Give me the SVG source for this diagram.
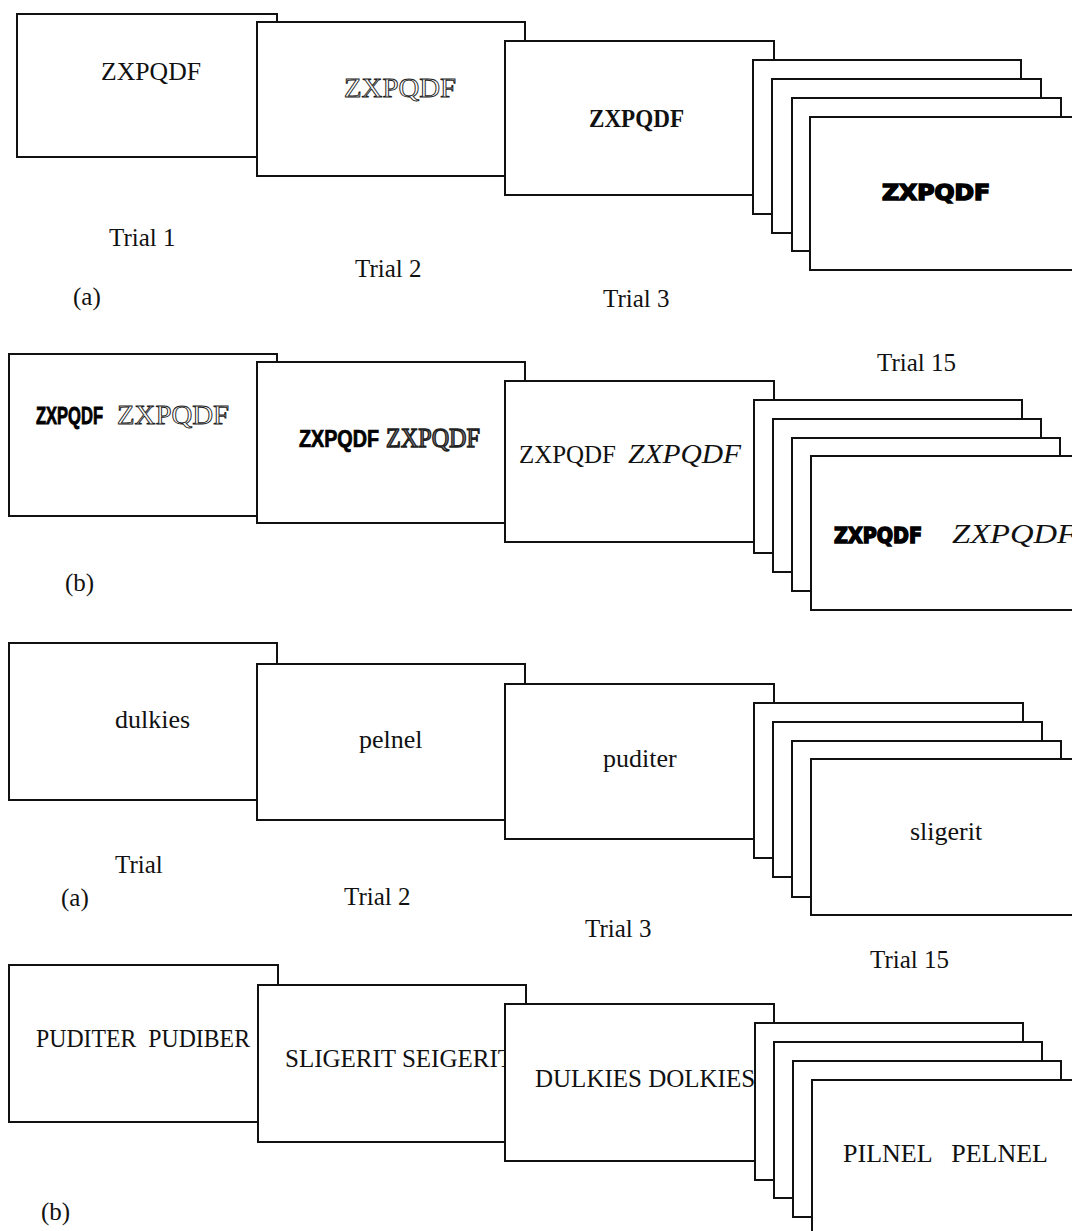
<svg xmlns="http://www.w3.org/2000/svg" width="1072" height="1231" viewBox="0 0 1072 1231">
<style>
.card{fill:#fff;stroke:#111;stroke-width:2}
.t{font-family:"Liberation Serif","Times New Roman",serif;font-size:26px;fill:#111}
.w{font-family:"Liberation Serif","Times New Roman",serif;font-size:25px;fill:#111}
.eng{font-family:"Liberation Serif","Times New Roman",serif;font-size:27px;fill:#fff;stroke:#222;stroke-width:0.9}
.bold{font-family:"Liberation Serif","Times New Roman",serif;font-size:26px;font-weight:bold;fill:#111}
.heavy{font-family:"DejaVu Sans",sans-serif;font-size:22px;font-weight:bold;fill:#000;stroke:#000;stroke-width:1.6}
.cond{font-family:"Liberation Sans",sans-serif;font-weight:bold;fill:#000;stroke:#000;stroke-width:0.6}
.script{font-family:"Liberation Serif","Times New Roman",serif;font-size:27px;font-style:italic;fill:#111}
</style>
<rect width="1072" height="1231" fill="#fff"/>

<!-- Panel 1 (a) -->
<g id="p1">
<g id="p1-trial1"><rect class="card" x="17" y="14" width="260" height="143"/><text class="t" x="101" y="80" textLength="100" lengthAdjust="spacingAndGlyphs">ZXPQDF</text></g>
<g id="p1-trial2"><rect class="card" x="257" y="22" width="268" height="154"/><text class="eng" x="344" y="97" textLength="112" lengthAdjust="spacingAndGlyphs">ZXPQDF</text></g>
<g id="p1-trial3"><rect class="card" x="505" y="41" width="269" height="154"/><text class="bold" x="589" y="127" textLength="95" lengthAdjust="spacingAndGlyphs">ZXPQDF</text></g>
<g id="p1-stackA"><rect class="card" x="753" y="60" width="268" height="154"/></g>
<g id="p1-stackB"><rect class="card" x="772" y="79" width="269" height="154"/></g>
<g id="p1-stackC"><rect class="card" x="792" y="98" width="269" height="153"/></g>
<g id="p1-trial15"><rect class="card" x="810" y="117" width="270" height="153"/><text class="heavy" x="882" y="200" textLength="108" lengthAdjust="spacingAndGlyphs">ZXPQDF</text></g>
<text class="w" x="109" y="246">Trial 1</text>
<text class="w" x="355" y="277">Trial 2</text>
<text class="w" x="73" y="305">(a)</text>
<text class="w" x="603" y="307">Trial 3</text>
<text class="w" x="877" y="371">Trial 15</text>
</g>

<!-- Panel 2 (b) -->
<g id="p2">
<g id="p2-trial1"><rect class="card" x="9" y="354" width="268" height="162"/><text class="cond" transform="translate(36,424) scale(1,1.45)" x="0" y="0" style="font-size:16.5px" textLength="67" lengthAdjust="spacingAndGlyphs">ZXPQDF</text><text class="eng" x="117" y="424" textLength="112" lengthAdjust="spacingAndGlyphs">ZXPQDF</text></g>
<g id="p2-trial2"><rect class="card" x="257" y="362" width="268" height="161"/><text class="cond" transform="translate(299,447) scale(1,1.2)" x="0" y="0" style="font-size:19.5px" textLength="80" lengthAdjust="spacingAndGlyphs">ZXPQDF</text><text class="eng" x="386" y="447" textLength="94" lengthAdjust="spacingAndGlyphs" style="stroke-width:1.4;fill:#777">ZXPQDF</text></g>
<g id="p2-trial3"><rect class="card" x="505" y="381" width="269" height="161"/><text class="t" x="519" y="463" textLength="97" lengthAdjust="spacingAndGlyphs">ZXPQDF</text><text class="script" x="628" y="463" textLength="113" lengthAdjust="spacingAndGlyphs">ZXPQDF</text></g>
<g id="p2-stackA"><rect class="card" x="754" y="400" width="268" height="153"/></g>
<g id="p2-stackB"><rect class="card" x="773" y="419" width="268" height="153"/></g>
<g id="p2-stackC"><rect class="card" x="792" y="438" width="268" height="153"/></g>
<g id="p2-trial15"><rect class="card" x="811" y="456" width="270" height="154"/><text class="heavy" x="834" y="543" textLength="88" lengthAdjust="spacingAndGlyphs">ZXPQDF</text><text class="script" x="952" y="543" textLength="125" lengthAdjust="spacingAndGlyphs">ZXPQDF</text></g>
<text class="w" x="65" y="591">(b)</text>
</g>

<!-- Panel 3 (a) -->
<g id="p3">
<g id="p3-trial1"><rect class="card" x="9" y="643" width="268" height="157"/><text class="t" x="115" y="728">dulkies</text></g>
<g id="p3-trial2"><rect class="card" x="257" y="664" width="268" height="156"/><text class="t" x="359" y="748">pelnel</text></g>
<g id="p3-trial3"><rect class="card" x="505" y="684" width="269" height="155"/><text class="t" x="603" y="767">puditer</text></g>
<g id="p3-stackA"><rect class="card" x="754" y="703" width="269" height="155"/></g>
<g id="p3-stackB"><rect class="card" x="773" y="722" width="269" height="155"/></g>
<g id="p3-stackC"><rect class="card" x="792" y="741" width="269" height="156"/></g>
<g id="p3-trial15"><rect class="card" x="811" y="759" width="270" height="156"/><text class="t" x="910" y="840">sligerit</text></g>
<text class="w" x="115" y="873">Trial</text>
<text class="w" x="61" y="906">(a)</text>
<text class="w" x="344" y="905">Trial 2</text>
<text class="w" x="585" y="937">Trial 3</text>
<text class="w" x="870" y="968">Trial 15</text>
</g>

<!-- Panel 4 (b) -->
<g id="p4">
<g id="p4-trial1"><rect class="card" x="9" y="965" width="269" height="157"/><text class="w" x="36" y="1047" xml:space="preserve" textLength="214" lengthAdjust="spacingAndGlyphs">PUDITER  PUDIBER</text></g>
<g id="p4-trial2"><rect class="card" x="258" y="985" width="268" height="157"/><text class="w" x="285" y="1067">SLIGERIT SEIGERIT</text></g>
<g id="p4-trial3"><rect class="card" x="505" y="1004" width="269" height="157"/><text class="w" x="535" y="1087">DULKIES DOLKIES</text></g>
<g id="p4-stackA"><rect class="card" x="755" y="1023" width="268" height="157"/></g>
<g id="p4-stackB"><rect class="card" x="774" y="1042" width="268" height="156"/></g>
<g id="p4-stackC"><rect class="card" x="793" y="1061" width="268" height="156"/></g>
<g id="p4-trial15"><rect class="card" x="812" y="1080" width="270" height="170"/><text class="w" x="843" y="1162" xml:space="preserve" textLength="205" lengthAdjust="spacingAndGlyphs">PILNEL   PELNEL</text></g>
<text class="w" x="41" y="1220">(b)</text>
</g>
</svg>
